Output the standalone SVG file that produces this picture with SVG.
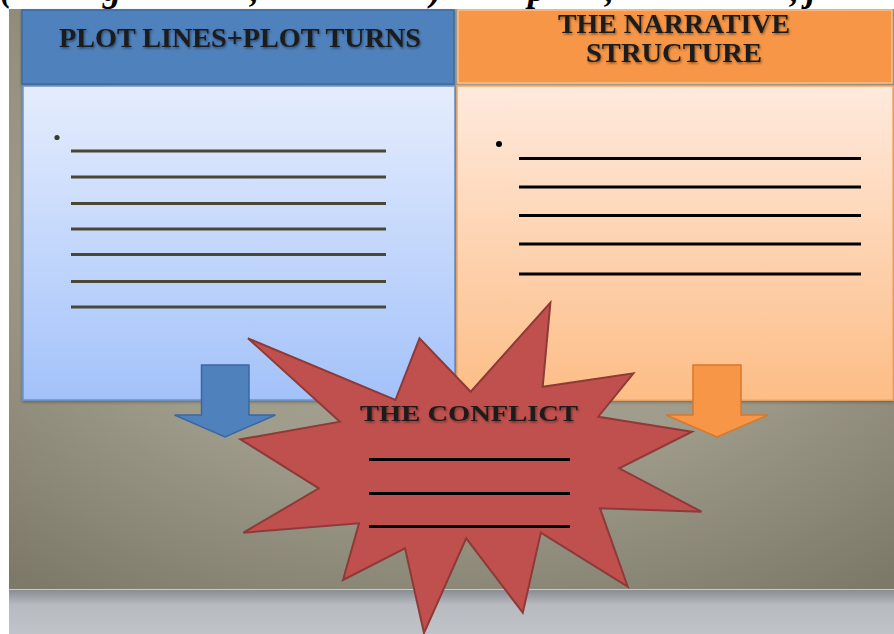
<svg xmlns="http://www.w3.org/2000/svg" width="894" height="634" viewBox="0 0 894 634">
<style>
.hdr{font-family:"Liberation Serif","Times New Roman",serif;font-weight:bold;fill:#1b1b1b;text-anchor:middle}
.top{font-family:"Liberation Serif","Times New Roman",serif;font-weight:bold;font-style:italic;font-size:36px;fill:#000}
.bl{stroke:#4a4832;stroke-width:3;stroke-linecap:butt}
.ol{stroke:#000;stroke-width:3}
.cl{stroke:#000;stroke-width:3.2}
</style>
<defs>
<radialGradient id="slide" cx="0.5" cy="0.35" r="0.8">
<stop offset="0" stop-color="#aba899"/>
<stop offset="0.55" stop-color="#9f9c8b"/>
<stop offset="1" stop-color="#7c7968"/>
</radialGradient>
<linearGradient id="band" x1="0" y1="0" x2="0" y2="1">
<stop offset="0" stop-color="#868a90"/>
<stop offset="0.35" stop-color="#b7babe"/>
<stop offset="1" stop-color="#c0c3c7"/>
</linearGradient>
<linearGradient id="blueBody" x1="0" y1="0" x2="0" y2="1">
<stop offset="0" stop-color="#e5edfd"/>
<stop offset="1" stop-color="#a3c2fa"/>
</linearGradient>
<linearGradient id="orBody" x1="0" y1="0" x2="0" y2="1">
<stop offset="0" stop-color="#feeadd"/>
<stop offset="1" stop-color="#fdbd86"/>
</linearGradient>
<filter id="sh" x="-5%" y="-20%" width="110%" height="140%">
<feDropShadow dx="1" dy="1.5" stdDeviation="0.8" flood-color="#000" flood-opacity="0.45"/>
</filter>
<filter id="boxsh" x="-5%" y="-5%" width="110%" height="110%">
<feDropShadow dx="0" dy="1.5" stdDeviation="1.5" flood-color="#000" flood-opacity="0.3"/>
</filter>
</defs>

<rect x="0" y="0" width="894" height="634" fill="#ffffff"/>
<g id="slide-bg">
<rect x="9" y="9" width="885" height="581" fill="url(#slide)"/>
<rect x="9" y="589" width="885" height="45" fill="url(#band)"/>
<line x1="9" y1="589.5" x2="894" y2="589.5" stroke="#c9cbcd" stroke-width="1.2"/>
</g>

<text class="top" y="0.5"><tspan x="0">(</tspan><tspan x="103">g</tspan><tspan x="250">,</tspan><tspan x="430">)</tspan><tspan x="528">p</tspan><tspan x="605">,</tspan><tspan x="790">,</tspan><tspan x="806">j</tspan></text>

<g id="header-plot">
<rect x="22" y="10" width="432" height="74" fill="#4f81bd" stroke="#3d6aa3" stroke-width="1.5" filter="url(#boxsh)"/>
<text class="hdr" x="240" y="47" font-size="27" textLength="362" lengthAdjust="spacingAndGlyphs" filter="url(#sh)">PLOT LINES+PLOT TURNS</text>
</g>

<g id="header-narrative">
<rect x="458" y="10" width="434" height="73" fill="#f79646" stroke="#fbc08f" stroke-width="1.5"/>
<text class="hdr" x="674" y="33" font-size="27" textLength="232" lengthAdjust="spacingAndGlyphs" filter="url(#sh)">THE NARRATIVE</text>
<text class="hdr" x="674" y="62" font-size="27" textLength="176" lengthAdjust="spacingAndGlyphs" filter="url(#sh)">STRUCTURE</text>
</g>

<g id="box-plot">
<rect x="23" y="86" width="432" height="314" fill="url(#blueBody)" stroke="#6b93cf" stroke-width="1.5" filter="url(#boxsh)"/>
<circle cx="57" cy="137.5" r="2.6" fill="#3b3a2a"/>
<line class="bl" x1="71" y1="151" x2="386" y2="151"/>
<line class="bl" x1="71" y1="177" x2="386" y2="177"/>
<line class="bl" x1="71" y1="203.5" x2="386" y2="203.5"/>
<line class="bl" x1="71" y1="229" x2="386" y2="229"/>
<line class="bl" x1="71" y1="254.5" x2="386" y2="254.5"/>
<line class="bl" x1="71" y1="281.5" x2="386" y2="281.5"/>
<line class="bl" x1="71" y1="307" x2="386" y2="307"/>
</g>

<g id="box-narrative">
<rect x="457" y="86" width="436" height="314" fill="url(#orBody)" stroke="#f8a863" stroke-width="1.5" filter="url(#boxsh)"/>
<circle cx="499" cy="144" r="3" fill="#000"/>
<line class="ol" x1="519" y1="158.5" x2="861" y2="158.5"/>
<line class="ol" x1="519" y1="187" x2="861" y2="187"/>
<line class="ol" x1="519" y1="215.5" x2="861" y2="215.5"/>
<line class="ol" x1="519" y1="244" x2="861" y2="244"/>
<line class="ol" x1="519" y1="274" x2="861" y2="274"/>
</g>

<g id="connectors">
<polygon points="201.5,365 249,365 249,415 275.5,415 225,437 174.5,415 201.5,415" fill="#4f81bd" stroke="#3a68a0" stroke-width="1.5" stroke-linejoin="miter"/>
<polygon points="693,365 741,365 741,415 768,415 717,437 666,415 693,415" fill="#f79646" stroke="#d7782c" stroke-width="1.5" stroke-linejoin="miter"/>
</g>

<g id="conflict">
<polygon points="248,338.3 395.4,400 419.5,338.3 470.7,391.7 550.4,302.7 542.7,386.7 633.4,373.3 598.2,416.7 692,431.7 619.2,468.3 701.5,511.7 600,508.3 627.7,586.7 540.8,532.7 522.8,612.7 466.2,538.3 424,633 405,548.3 343,580 359,523.3 243.4,532.7 318.8,488.3 240.4,439.3 339.9,421.7" fill="#c0504d" stroke="#8e3a38" stroke-width="2" stroke-linejoin="miter"/>
<text class="hdr" x="469" y="421" font-size="24" textLength="218" lengthAdjust="spacingAndGlyphs" filter="url(#sh)">THE CONFLICT</text>
<line class="cl" x1="369" y1="459.5" x2="570" y2="459.5"/>
<line class="cl" x1="369" y1="493.5" x2="570" y2="493.5"/>
<line class="cl" x1="369" y1="526.5" x2="570" y2="526.5"/>
</g>
</svg>
